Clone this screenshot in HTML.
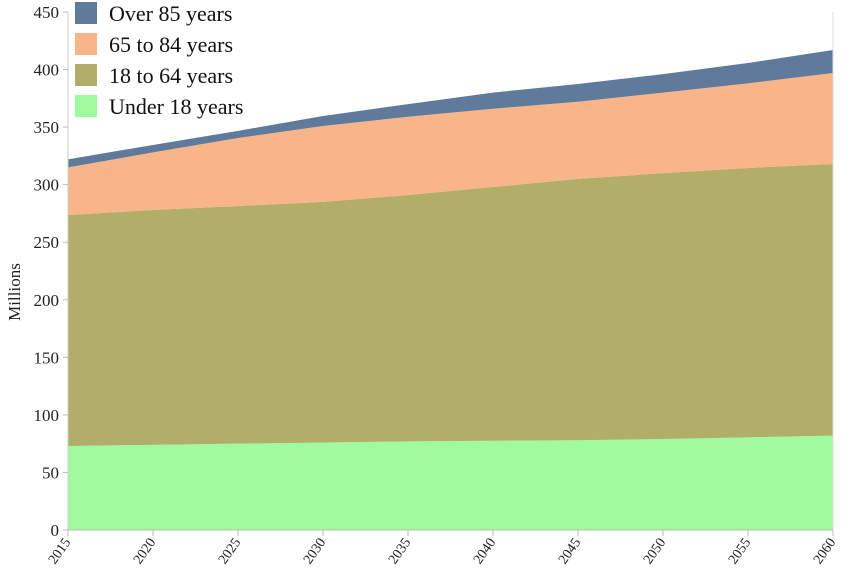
<!DOCTYPE html>
<html><head><meta charset="utf-8"><style>
body{margin:0;background:#fff;}
svg{display:block;font-family:"Liberation Serif",serif;}
</style></head><body>
<svg id="chart" width="850" height="584"></svg>
<script>
const years=[2015,2020,2025,2030,2035,2040,2045,2050,2055,2060];
const under18=[73,74,75,76,77,77.5,78,79,80.5,82];
const age18to64=[200.7,204,206.5,209,214,220.5,227,231,234,236];
const age65to84=[41.3,50,59,66,68,68,67,70,73.5,79];
const over85=[7,6.5,6.2,8.7,11,14,15.5,16,17.7,20];
const yTicks=[0,50,100,150,200,250,300,350,400,450];
const seriesNames=["Under 18 years","18 to 64 years","65 to 84 years","Over 85 years"];
const seriesColors=["#a0fb9e","#b0ae68","#f9b48a","#5f7a9a"];
const NS="http://www.w3.org/2000/svg";
const svg=document.getElementById('chart');
const x0=68,x1=833,yb=530,yt=12;
const xs=y=>x0+(y-2015)/(2060-2015)*(x1-x0);
const ys=v=>yb-v/450*(yb-yt);
function mk(t,a){const e=document.createElementNS(NS,t);for(const k in a)e.setAttribute(k,a[k]);svg.appendChild(e);return e;}
const all=[under18,age18to64,age65to84,over85];
let base=years.map(()=>0);
const slugs=["under-18","18-to-64","65-to-84","over-85"];
all.forEach((s,i)=>{
  const top=base.map((b,j)=>b+s[j]);
  let d="M"+years.map((y,j)=>xs(y)+","+ys(top[j])).join(" L");
  for(let j=years.length-1;j>=0;j--)d+=" L"+xs(years[j])+","+ys(base[j]);
  d+=" Z";
  const p=mk('path',{d:d,fill:seriesColors[i]});
  
  
  base=top;
});
const ax=mk('line',{x1:x0,y1:yt,x2:x0,y2:yb,stroke:'#ccc'});


const rl=mk('line',{x1:x1,y1:yt,x2:x1,y2:yb,stroke:'#ddd'});


const bx=mk('line',{x1:x0,y1:yb,x2:x1,y2:yb,stroke:'#bbb'});


yTicks.forEach(v=>{
  const y=ys(v);
  mk('line',{x1:x0-5,y1:y,x2:x0,y2:y,stroke:'#bbb'});
  const t=mk('text',{x:x0-9,y:y+6,'text-anchor':'end','font-size':'17',fill:'#222'});
  t.textContent=v;
  
  
});
years.forEach(yr=>{
  const x=xs(yr);
  mk('line',{x1:x,y1:yb,x2:x,y2:yb+6,stroke:'#bbb'});
  const t=mk('text',{x:x+3,y:yb+12,'text-anchor':'end','font-size':'14',fill:'#222',transform:`rotate(-55 ${x+3} ${yb+12})`});
  t.textContent=yr;
  
  
});
const yl=mk('text',{x:20,y:292,'text-anchor':'middle','font-size':'17',fill:'#222',transform:'rotate(-90 20 292)'});
yl.textContent="Millions";


for(let k=0;k<4;k++){
  const i=3-k;
  const y=2+k*31;
  const r=mk('rect',{x:75,y:y,width:22,height:22,fill:seriesColors[i]});
  
  
  const t=mk('text',{x:109,y:y+19,'font-size':'22',fill:'#111'});
  t.textContent=seriesNames[i];
  
  
}
</script>
</body></html>
